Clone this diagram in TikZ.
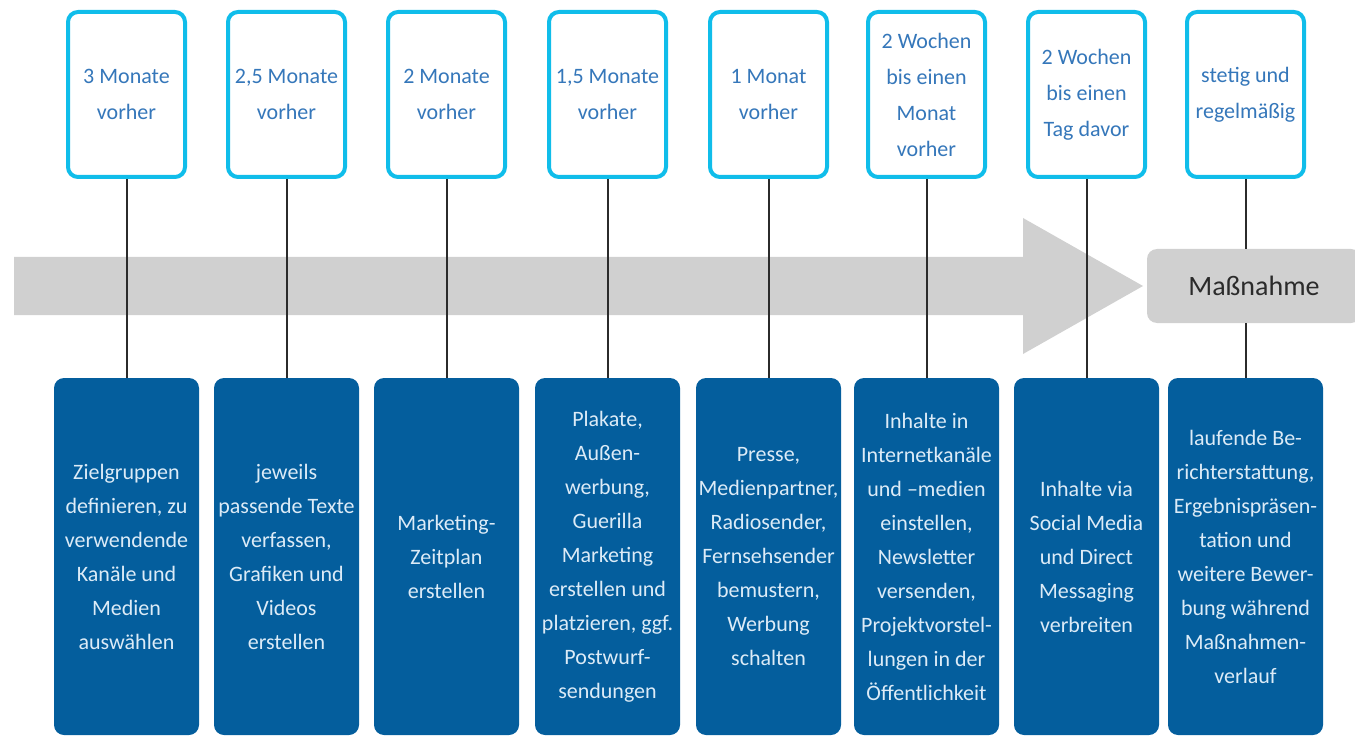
\documentclass[tikz,border=0pt]{standalone}
\usepackage{fontspec}
\setmainfont{Carlito}
\usetikzlibrary{positioning}

\definecolor{zeitcyan}{HTML}{10BDEA}
\definecolor{zeittext}{HTML}{3577BA}
\definecolor{aufgabeblau}{HTML}{045E9D}
\definecolor{aufgabetext}{HTML}{DCEBF7}
\definecolor{pfeilgrau}{HTML}{D0D0D0}
\definecolor{liniengrau}{HTML}{2B2B2B}

\begin{document}
\begin{tikzpicture}[x=1pt, y=1pt, node distance=160pt,
    zeit/.style={draw=zeitcyan, line width=4pt, fill=white, rounded corners=10pt,
      minimum width=117pt, minimum height=165pt, inner sep=1pt, align=center,
      text=zeittext, font=\fontsize{22}{36}\selectfont},
    aufgabe/.style={fill=aufgabeblau, rounded corners=10pt,
      minimum width=145pt, minimum height=357pt, inner sep=1pt, align=center,
      text=aufgabetext, font=\fontsize{22}{34}\selectfont},
    link/.style={draw=liniengrau, line width=2pt}]

        \useasboundingbox (0,0) rectangle (1355,-738);

        % grey timeline arrow
        \fill[pfeilgrau] (14,-257) -- (1023,-257) -- (1023,-218) -- (1143,-286)
          -- (1023,-354) -- (1023,-315) -- (14,-315) -- cycle;

        \node (Z1) [zeit] at (126.5,-94.5) {3 Monate\\vorher};
        \node (Z2) [zeit, right of=Z1] {2,5 Monate\\vorher};
        \node (Z3) [zeit, right of=Z2] {2 Monate\\vorher};
        \node (Z4) [zeit, right of=Z3, node distance=161pt] {1,5 Monate\\vorher};
        \node (Z5) [zeit, right of=Z4, node distance=161pt] {1 Monat\\vorher};
        \node (Z6) [zeit, right of=Z5, node distance=158pt] {2 Wochen\\bis einen\\Monat\\vorher};
        \node (Z7) [zeit, right of=Z6] {2 Wochen\\bis einen\\Tag davor};
        \node (Z8) [zeit, right of=Z7, node distance=159pt] {stetig und\\regelmäßig};

        \node (A1) [aufgabe, below of=Z1, node distance=462pt] {Zielgruppen\\definieren, zu\\verwendende\\Kanäle und\\Medien\\auswählen};
        \node (A2) [aufgabe, below of=Z2, node distance=462pt] {jeweils\\passende Texte\\verfassen,\\Grafiken und\\Videos\\erstellen};
        \node (A3) [aufgabe, below of=Z3, node distance=462pt] {Marketing-\\Zeitplan\\erstellen};
        \node (A4) [aufgabe, below of=Z4, node distance=462pt] {Plakate,\\Außen-\\werbung,\\Guerilla\\Marketing\\erstellen und\\platzieren, ggf.\\Postwurf-\\sendungen};
        \node (A5) [aufgabe, below of=Z5, node distance=462pt] {Presse,\\Medienpartner,\\Radiosender,\\Fernsehsender\\bemustern,\\Werbung\\schalten};
        \node (A6) [aufgabe, below of=Z6, node distance=462pt] {Inhalte in\\Internetkanäle\\und –medien\\einstellen,\\Newsletter\\versenden,\\Projektvorstel-\\lungen in der\\Öffentlichkeit};
        \node (A7) [aufgabe, below of=Z7, node distance=462pt] {Inhalte via\\Social Media\\und Direct\\Messaging\\verbreiten};
        \node (A8) [aufgabe, below of=Z8, node distance=462pt, minimum width=155pt] {laufende Be-\\richterstattung,\\Ergebnispräsen-\\tation und\\weitere Bewer-\\bung während\\Maßnahmen-\\verlauf};

        \node (Mass) [fill=pfeilgrau, rounded corners=10pt, minimum width=214pt,
          minimum height=74pt, text=liniengrau, font=\fontsize{28}{34}\selectfont]
          at (1254,-286) {Maßnahme};

        \draw[link] (Z1) to (A1);
        \draw[link] (Z2) to (A2);
        \draw[link] (Z3) to (A3);
        \draw[link] (Z4) to (A4);
        \draw[link] (Z5) to (A5);
        \draw[link] (Z6) to (A6);
        \draw[link] (Z7) to (A7);
        \draw[link] (Z8) to (Z8 |- Mass.north);
        \draw[link] (A8 |- Mass.south) to (A8);

      \end{tikzpicture}
\end{document}
